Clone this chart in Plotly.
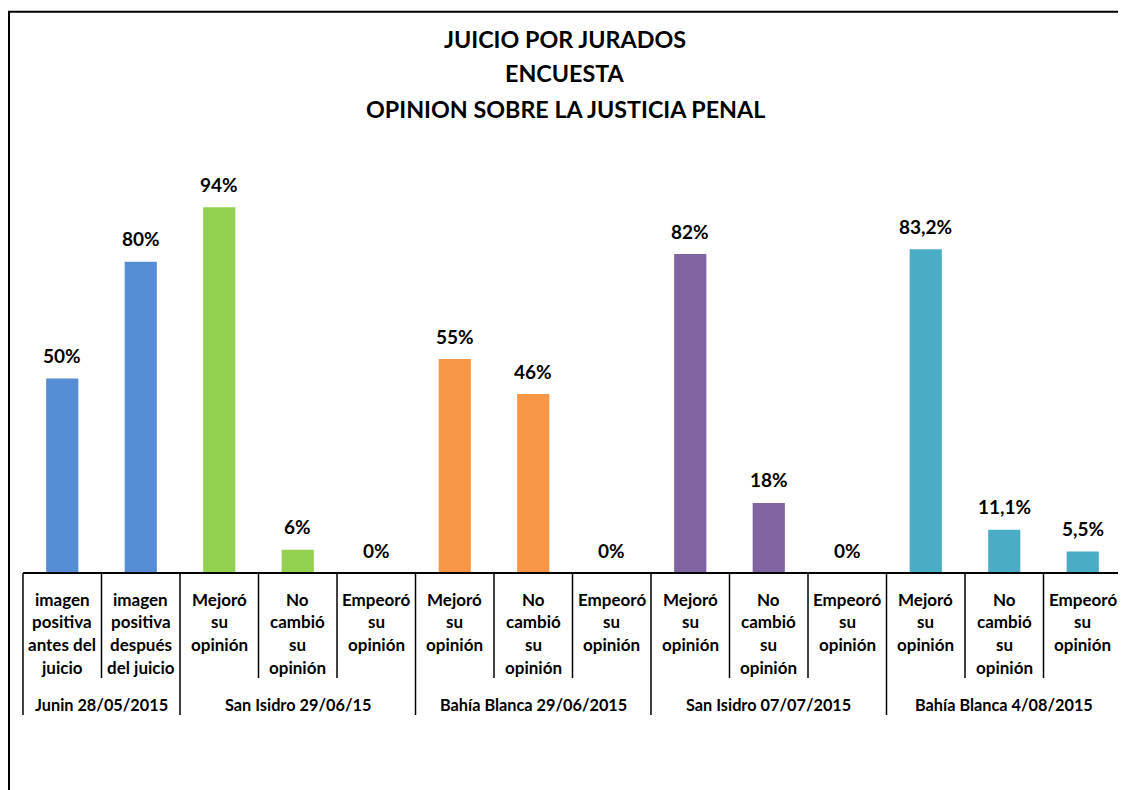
import plotly.graph_objects as go

# ---- data ----
categories = [
    "imagen<br>positiva<br>antes del<br>juicio",
    "imagen<br>positiva<br>después<br>del juicio",
    "Mejoró<br>su<br>opinión",
    "No<br>cambió<br>su<br>opinión",
    "Empeoró<br>su<br>opinión",
    "Mejoró<br>su<br>opinión",
    "No<br>cambió<br>su<br>opinión",
    "Empeoró<br>su<br>opinión",
    "Mejoró<br>su<br>opinión",
    "No<br>cambió<br>su<br>opinión",
    "Empeoró<br>su<br>opinión",
    "Mejoró<br>su<br>opinión",
    "No<br>cambió<br>su<br>opinión",
    "Empeoró<br>su<br>opinión",
]
values = [0.50, 0.80, 0.94, 0.06, 0.0, 0.55, 0.46, 0.0, 0.82, 0.18, 0.0, 0.832, 0.111, 0.055]
value_labels = ["50%", "80%", "94%", "6%", "0%", "55%", "46%", "0%", "82%", "18%", "0%",
                "83,2%", "11,1%", "5,5%"]
groups = ["Junin 28/05/2015", "San Isidro 29/06/15", "Bahía Blanca 29/06/2015",
          "San Isidro 07/07/2015", "Bahía Blanca 4/08/2015"]
group_sizes = [2, 3, 3, 3, 3]
group_colors = ["#558ED5", "#92D050", "#F79646", "#8064A2", "#4BACC6"]
title_lines = ["JUICIO POR JURADOS", "ENCUESTA", "OPINION SOBRE LA JUSTICIA PENAL"]

# ---- layout geometry (page pixels; the page body adds an 8px margin) ----
OFF = 8
W, H = 1126 - OFF, 790 - OFF
L, R, T, B = 23, 1122, 184, 573
FONT = "Lato"


def px_x(p):
    return (p - L) / (R - L)


def px_y(p):
    return (B - p) / (B - T)


bar_colors = []
for c, n in zip(group_colors, group_sizes):
    bar_colors += [c] * n

fig = go.Figure(go.Bar(
    x=list(range(len(values))), y=values,
    marker=dict(color=bar_colors, line=dict(width=0)),
    width=0.41, hoverinfo="skip",
))

ann = []
# value labels
for i, (v, t) in enumerate(zip(values, value_labels)):
    ann.append(dict(x=i, y=v, xref="x", yref="y", text=t, showarrow=False,
                    yanchor="middle", yshift=23,
                    font=dict(family=FONT, size=19, weight="bold", color="#000000")))
# category labels (one annotation per line for Excel-like spacing)
for i, lab in enumerate(categories):
    for k, line in enumerate(lab.split("<br>")):
        ann.append(dict(x=i, y=0, xref="x", yref="paper", text=line, showarrow=False,
                        yanchor="middle", yshift=-(26 + 22.7 * k),
                        font=dict(family=FONT, size=17, weight="bold", color="#000000")))
# group labels
start = 0
bounds = [0]
for g, n in zip(groups, group_sizes):
    ann.append(dict(x=start + (n - 1) / 2, y=0, xref="x", yref="paper", text=g,
                    showarrow=False, yanchor="middle", yshift=-131,
                    font=dict(family=FONT, size=16.3, weight="bold", color="#000000")))
    start += n
    bounds.append(start)
# title
for line, cy in zip(title_lines, [39, 73.5, 109]):
    ann.append(dict(x=px_x(565), y=px_y(cy), xref="paper", yref="paper", text=line,
                    showarrow=False, yanchor="middle", xanchor="center",
                    font=dict(family=FONT, size=23.3, weight="bold", color="#000000")))

shapes = []
n_cat = len(values)
line_style = dict(color="#000000", width=1.5)
# axis line
shapes.append(dict(type="line", xref="paper", yref="paper", x0=0, x1=1, y0=0, y1=0,
                   line=dict(color="#000000", width=2)))
# category dividers
for k in range(n_cat + 1):
    long = k in bounds
    shapes.append(dict(type="line", xref="paper", yref="paper",
                       x0=k / n_cat, x1=k / n_cat, y0=0,
                       y1=px_y(715) if long else px_y(678),
                       line=line_style))
# outer chart border (left edge kept just inside the figure)
shapes.append(dict(type="rect", xref="paper", yref="paper",
                   x0=px_x(OFF + 1), x1=px_x(1160), y0=px_y(830), y1=px_y(11.7),
                   line=dict(color="#000000", width=2), fillcolor="rgba(0,0,0,0)"))

fig.update_layout(
    width=W, height=H,
    margin=dict(l=L - OFF, r=W - (R - OFF), t=T - OFF, b=H - (B - OFF), pad=0),
    paper_bgcolor="white", plot_bgcolor="white",
    showlegend=False,
    font=dict(family=FONT, color="#000000"),
    xaxis=dict(range=[-0.5, n_cat - 0.5], showticklabels=False, showgrid=False,
               zeroline=False, showline=False, ticks="", fixedrange=True),
    yaxis=dict(range=[0, 1], visible=False, showgrid=False, zeroline=False, fixedrange=True),
    annotations=ann,
    shapes=shapes,
)

fig.write_html("out.html")
